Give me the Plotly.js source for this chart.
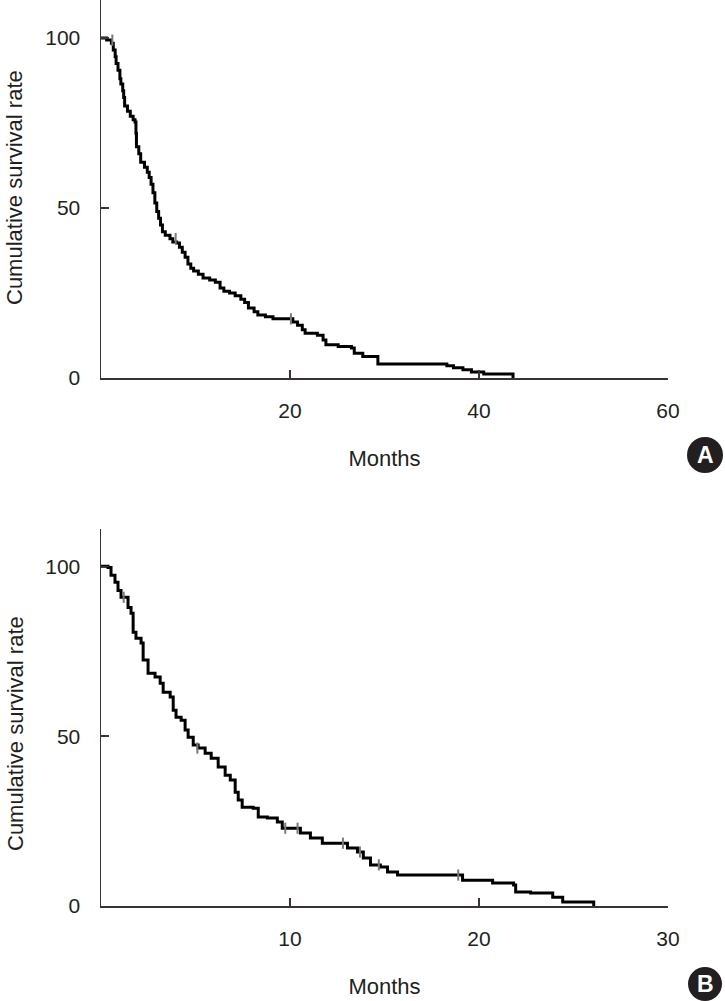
<!DOCTYPE html>
<html>
<head>
<meta charset="utf-8">
<script src="https://cdn.plot.ly/plotly-3.0.1.min.js"></script>
<style>html,body{margin:0;padding:0;background:#fff;}#chart{width:725px;height:1001px;}</style>
</head>
<body>
<div id="chart"></div>
<script>
// Panel A: Kaplan-Meier steps (months, cumulative survival %)
const monthsA = [0,0.6,1.1,1.3,1.5,1.6,1.8,2.0,2.1,2.3,2.4,2.5,2.8,3.1,3.4,3.6,3.7,3.75,4.0,4.2,4.6,4.9,5.1,5.3,5.5,5.7,5.9,6.1,6.3,6.5,6.8,7.3,7.6,8.0,8.3,8.6,8.9,9.2,9.5,9.8,10.3,10.8,11.5,12.1,12.6,13.0,13.6,14.2,14.8,15.2,15.6,16.2,16.6,17.4,18.2,20.3,20.8,21.3,21.6,22.9,23.5,23.8,25.1,26.5,26.8,27.7,29.3,36.6,37.3,38.3,39.2,40.5,43.6];
const survA = [100,99.4,98.5,96.5,94.5,92.5,90.5,88,86.5,84.5,82.5,80,78.5,77,76,75.3,72,68,66,63.5,62,60.5,59,57,54.5,51.5,49,47,45,43,42,41,40,39.7,38.5,37,35.5,33.5,32.3,31.5,30.5,29.4,28.8,28.2,26.5,25.5,25,24.2,23.2,22.2,20.6,19.5,18.5,18.0,17.4,16.5,15.5,14.2,13.2,12.6,11.2,9.8,9.3,8.8,7.3,6.3,4.1,3.6,3.0,2.4,1.8,1.2,0];
const censorMonthsA = [1.2, 7.9, 20.1];
const censorSurvA = [99.4, 41, 17.4];

// Panel B
const monthsB = [0,0.37,0.53,0.74,0.90,1.06,1.43,1.59,1.70,1.85,2.12,2.23,2.49,2.86,3.13,3.29,3.66,3.82,3.97,4.24,4.45,4.61,4.88,5.14,5.51,5.83,6.2,6.57,6.84,7.1,7.26,7.47,8.05,8.32,8.8,9.33,9.59,10.55,11.08,11.71,13.04,13.57,13.88,14.26,14.78,15.16,15.69,19.13,20.72,21.83,21.94,22.73,23.9,24.43,26.07];
const survB = [100,99.7,97.4,95.3,92.9,90.9,87.9,86.2,80.6,78.8,77.4,72.4,68.5,67.4,65.6,62.9,61.5,57.6,55.6,54.7,51.8,49.7,47.4,46.5,45,43.5,40.9,38.5,37.1,33.5,31.2,29.1,28.8,26.2,25.9,24.7,22.9,21.5,20,18.5,17.1,15.9,14.1,12.1,11.5,10,9.1,7.6,6.8,6.2,4.1,3.8,2.6,1.2,0];
const censorMonthsB = [1.2, 5.1, 9.75, 10.4, 12.8, 13.7, 14.7, 18.9];
const censorSurvB = [90.9, 46.5, 22.9, 22.9, 18.5, 15.9, 12.1, 9.1];

const xTicksA = [20, 40, 60];
const xTicksB = [10, 20, 30];
const yTicks = [0, 50, 100];
const yTitle = 'Cumulative survival rate';
const xTitle = 'Months';
const panelLabels = ['A', 'B'];

const W = 725, H = 1001;
const FONT = '"Liberation Sans", Arial, sans-serif';
const TXT = '#231f20';
const AXC = '#3a3333';

function curve(x, y, xa, ya) {
  return {x: x, y: y, xaxis: xa, yaxis: ya, type: 'scatter', mode: 'lines',
    line: {color: '#000', width: 3, shape: 'hv'}, hoverinfo: 'skip', showlegend: false};
}
function censor(x, y, xa, ya) {
  return {x: x, y: y, xaxis: xa, yaxis: ya, type: 'scatter', mode: 'markers',
    marker: {symbol: 'line-ns', size: 8, line: {color: '#7a7a7a', width: 2}},
    hoverinfo: 'skip', showlegend: false};
}

const data = [
  curve(monthsA, survA, 'x', 'y'),
  censor(censorMonthsA, censorSurvA, 'x', 'y'),
  curve(monthsB, survB, 'x2', 'y2'),
  censor(censorMonthsB, censorSurvB, 'x2', 'y2')
];

function xaxis(range, ticks, anchor) {
  return {domain: [101/W, 668/W], range: range, tickvals: ticks, ticktext: ticks.map(String),
    ticks: 'inside', ticklen: 8, tickwidth: 1.5, tickcolor: AXC,
    showline: true, linecolor: AXC, linewidth: 1.5, showgrid: false, zeroline: false,
    anchor: anchor, tickfont: {family: FONT, size: 21, color: TXT}, ticklabelstandoff: 13,
    title: {text: xTitle, font: {family: FONT, size: 22, color: TXT}, standoff: 30}, fixedrange: true};
}
function yaxis(domain, range, anchor) {
  return {domain: domain, range: range, tickvals: yTicks, ticktext: yTicks.map(String),
    ticks: 'inside', ticklen: 8, tickwidth: 1.5, tickcolor: AXC,
    showline: true, linecolor: AXC, linewidth: 1.5, showgrid: false, zeroline: false,
    anchor: anchor, tickfont: {family: FONT, size: 21, color: TXT}, ticklabelstandoff: 15, fixedrange: true};
}

function badge(cx, cy, r) {
  return {type: 'circle', xref: 'paper', yref: 'paper',
    x0: (cx - r)/W, x1: (cx + r)/W, y0: 1 - (cy + r)/H, y1: 1 - (cy - r)/H,
    fillcolor: '#231f20', line: {width: 0}};
}
function badgeText(t, cx, cy) {
  return {text: '<b>' + t + '</b>', xref: 'paper', yref: 'paper', x: cx/W, y: 1 - cy/H,
    xanchor: 'center', yanchor: 'middle', showarrow: false,
    font: {family: FONT, size: 23, color: '#fff'}};
}
function yTitleAnn(cy) {
  return {text: yTitle, xref: 'paper', yref: 'paper', x: 15/W, y: 1 - cy/H, textangle: -90,
    xanchor: 'center', yanchor: 'middle', showarrow: false,
    font: {family: FONT, size: 22, color: TXT}};
}

const layout = {
  width: W, height: H, margin: {l: 0, r: 0, t: 0, b: 0},
  paper_bgcolor: '#fff', plot_bgcolor: '#fff', showlegend: false,
  xaxis: xaxis([0, 60], xTicksA, 'y'),
  yaxis: yaxis([1 - 378/H, 1], [0, 111.2], 'x'),
  xaxis2: xaxis([0, 30], xTicksB, 'y2'),
  yaxis2: yaxis([1 - 906/H, 1 - 529/H], [0, 111], 'x2'),
  shapes: [badge(705, 455, 18), badge(705, 984, 17)],
  annotations: [badgeText(panelLabels[0], 705, 455), badgeText(panelLabels[1], 705, 984),
    yTitleAnn(188), yTitleAnn(734)]
};

Plotly.newPlot('chart', data, layout, {displayModeBar: false, staticPlot: true});
</script>
</body>
</html>
